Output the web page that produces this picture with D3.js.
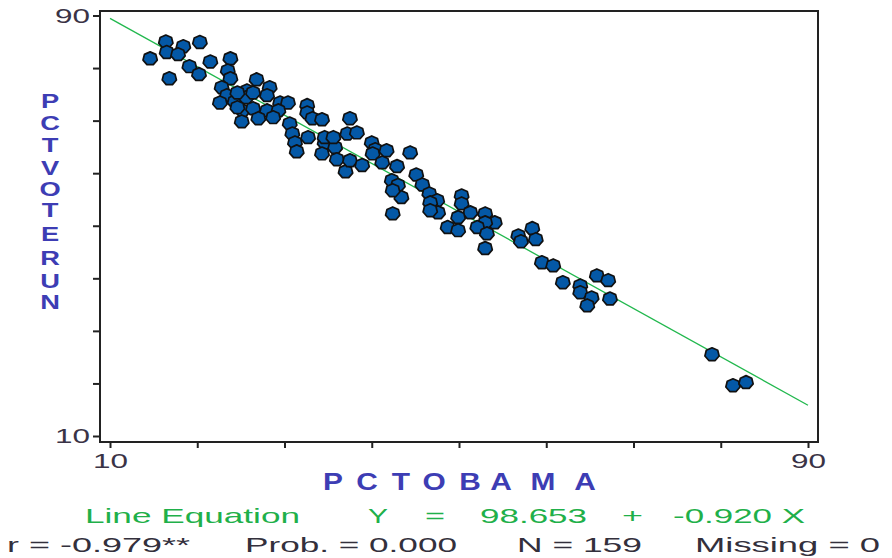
<!DOCTYPE html>
<html>
<head>
<meta charset="utf-8">
<script src="https://cdn.jsdelivr.net/npm/d3@7/dist/d3.min.js"></script>
<style>
  html, body { margin: 0; padding: 0; background: #fff; }
  svg { display: block; font-family: "Liberation Sans", Arial, sans-serif; }
</style>
</head>
<body>
<svg id="chart" width="892" height="558"></svg>
<script>
// Percent Obama vote (X) vs percent voter turnout measure (Y), one point per county
const pctObama = [
  14.6, 16.4, 18.4, 20.3, 16.5, 17.8, 16.8, 19.1, 20.2, 21.5,
  23.8, 23.5, 23.8, 26.8, 22.8, 23.4, 25.7, 22.6, 24.3, 25.6,
  25.2, 26.4, 25.1, 24.6, 28.3, 24.6, 26.4, 28.0, 29.5, 30.4,
  32.6, 28.0, 29.3, 27.0, 28.7, 30.6, 32.6, 33.2, 34.3, 37.5,
  30.9, 32.7, 31.2, 31.4, 34.6, 34.3, 35.8, 36.0, 37.2, 37.0,
  34.6, 35.6, 38.3, 37.5, 38.9, 40.0, 40.4, 40.1, 41.7, 41.2,
  42.9, 44.4, 42.3, 43.0, 43.4, 45.1, 45.8, 46.6, 47.5, 42.4,
  42.4, 46.7, 47.6, 46.7, 50.3, 50.3, 51.3, 49.9, 53.0, 54.1,
  53.0, 52.1, 48.7, 49.9, 53.2, 53.0, 56.8, 58.4, 58.8, 57.1,
  59.5, 60.8, 61.9, 63.9, 65.8, 67.1, 63.9, 65.2, 67.3, 64.7,
  79.0, 81.4, 82.9
];
const pctVoteRun = [
  81.9, 85.1, 84.2, 85.0, 83.1, 82.7, 78.1, 80.4, 78.9, 81.3,
  81.9, 79.6, 78.1, 77.9, 76.4, 74.9, 75.8, 73.5, 73.7, 74.5,
  72.0, 72.4, 69.9, 72.6, 76.4, 75.4, 75.4, 74.9, 73.5, 73.5,
  73.0, 72.0, 72.0, 70.5, 70.7, 69.5, 71.6, 70.5, 70.3, 70.5,
  67.6, 66.9, 65.9, 64.2, 65.9, 63.8, 65.0, 62.7, 67.6, 60.4,
  66.9, 66.9, 67.8, 62.5, 61.6, 65.9, 64.6, 63.8, 64.4, 62.1,
  61.4, 64.0, 58.7, 57.8, 55.5, 59.8, 57.9, 56.2, 54.9, 56.8,
  52.4, 54.5, 52.6, 53.0, 55.8, 54.3, 52.6, 51.7, 52.4, 50.7,
  50.7, 49.8, 49.8, 49.2, 48.6, 45.8, 48.2, 49.6, 47.5, 47.1,
  43.1, 42.5, 39.3, 38.7, 40.6, 39.7, 37.4, 36.4, 36.2, 34.9,
  25.6, 19.7, 20.3
];

// Fitted line Y = a + b X and summary statistics
const intercept = 98.653;
const slope = -0.920;
const tickValues = [10, 20, 30, 40, 50, 60, 70, 80, 90];
const labeledTicks = [10, 90];
const xTitle = "PCTOBAMA";
const yTitle = "PCTVOTERUN";
const equationParts = ["Line Equation", "Y", "=", "98.653", "+", "-0.920 X"];
const statsParts = ["r = -0.979**", "Prob. = 0.000", "N = 159", "Missing = 0"];

const svg = d3.select("#chart");

const x = d3.scaleLinear().domain([10, 90]).range([110, 808]);
const y = d3.scaleLinear().domain([10, 90]).range([436, 15.5]);

// plot frame, a little wider than the data range
const frame = { left: 100, right: 818, top: 11, bottom: 442 };

svg.append("rect")
  .attr("x", frame.left).attr("y", frame.top)
  .attr("width", frame.right - frame.left)
  .attr("height", frame.bottom - frame.top)
  .attr("fill", "none").attr("stroke", "#222").attr("stroke-width", 2);

const tickFmt = d => labeledTicks.includes(d) ? String(d) : "";

const yAxis = svg.append("g")
  .attr("transform", `translate(${frame.left},0)`)
  .call(d3.axisLeft(y).tickValues(tickValues).tickFormat(tickFmt).tickSize(7).tickPadding(3));
const xAxis = svg.append("g")
  .attr("transform", `translate(0,${frame.bottom})`)
  .call(d3.axisBottom(x).tickValues(tickValues).tickFormat(tickFmt).tickSize(6).tickPadding(5));

[yAxis, xAxis].forEach(g => {
  g.select(".domain").remove();
  g.selectAll(".tick line").attr("stroke", "#222").attr("stroke-width", 2);
  g.selectAll(".tick text")
    .attr("font-size", 21).attr("fill", "#3a3346")
    .attr("font-family", "'Liberation Sans', Arial, sans-serif")
    .filter(d => labeledTicks.includes(d))
    .attr("textLength", 35)
    .attr("lengthAdjust", "spacingAndGlyphs");
});

// regression line
svg.append("line")
  .attr("x1", x(10)).attr("y1", y(intercept + slope * 10))
  .attr("x2", x(90)).attr("y2", y(intercept + slope * 90))
  .attr("stroke", "#22b84e").attr("stroke-width", 1.3);

// heptagon marker
const r = 7.3;
const marker = d3.range(7).map(i => {
  const a = -Math.PI / 2 + i * 2 * Math.PI / 7;
  return [r * Math.cos(a), r * 0.92 * Math.sin(a) + 0.5];
});
const markerPath = "M" + marker.map(p => p.join(",")).join("L") + "Z";

svg.append("g")
  .selectAll("path")
  .data(pctObama.map((v, i) => [v, pctVoteRun[i]]))
  .join("path")
  .attr("d", markerPath)
  .attr("transform", d => `translate(${x(d[0])},${y(d[1])})`)
  .attr("fill", "#0458a6")
  .attr("stroke", "#111")
  .attr("stroke-width", 1.7)
  .attr("stroke-linejoin", "round");

// y title: stacked, widened letters
const yLetterY = [100, 122, 144, 167, 188, 209, 233, 257, 280, 301];
svg.append("g").selectAll("text")
  .data(yTitle.split(""))
  .join("text")
  .attr("transform", (d, i) => `translate(50,${yLetterY[i]}) scale(1.3,1)`)
  .attr("dy", "0.36em")
  .attr("text-anchor", "middle")
  .attr("font-size", 21).attr("font-weight", "bold")
  .attr("fill", "#3d3db4")
  .text(d => d);

// x title: spaced, widened letters
const xLetterX = [333, 367, 401, 434, 470, 501, 543, 585];
svg.append("g").selectAll("text")
  .data(xTitle.split(""))
  .join("text")
  .attr("transform", (d, i) => `translate(${xLetterX[i]},490) scale(1.3,1)`)
  .attr("text-anchor", "middle")
  .attr("font-size", 23).attr("font-weight", "bold")
  .attr("fill", "#3d3db4")
  .text(d => d);

// line equation (start x and rendered width of each piece)
const eqX = [85, 368, 425, 480, 622, 673];
const eqW = [215, 20, 20, 107, 21, 132];
svg.append("g").selectAll("text")
  .data(equationParts)
  .join("text")
  .attr("x", (d, i) => eqX[i])
  .attr("y", 523)
  .attr("textLength", (d, i) => eqW[i])
  .attr("lengthAdjust", "spacingAndGlyphs")
  .attr("font-size", 21)
  .attr("fill", "#1fb04a")
  .text(d => d);

// statistics row
const stX = [7, 245, 517, 695];
const stW = [183, 212, 125, 185];
svg.append("g").selectAll("text")
  .data(statsParts)
  .join("text")
  .attr("x", (d, i) => stX[i])
  .attr("y", 552)
  .attr("textLength", (d, i) => stW[i])
  .attr("lengthAdjust", "spacingAndGlyphs")
  .attr("font-size", 21)
  .attr("fill", "#33303c")
  .text(d => d);
</script>
</body>
</html>
